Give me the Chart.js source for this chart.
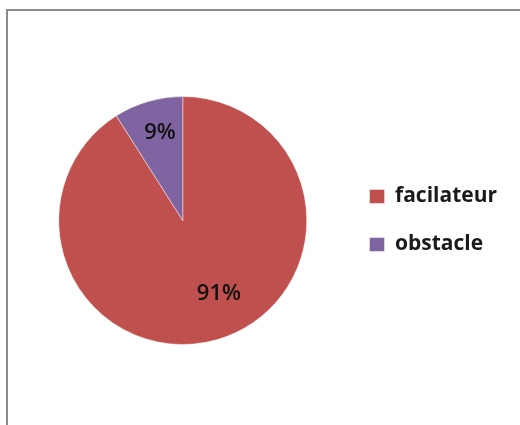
<!DOCTYPE html>
<html>
<head>
<meta charset="utf-8">
<script src="https://cdn.jsdelivr.net/npm/chart.js@4"></script>
<style>
  html, body { margin: 0; padding: 0; background: #fff; }
  #wrap { position: relative; width: 520px; height: 425px; overflow: hidden; }
  #frame {
    position: absolute; left: 6px; top: 9px; width: 600px; height: 500px;
    border-left: 2px solid #8a8a8a; border-top: 2px solid #8a8a8a;
  }
  canvas { position: absolute; left: 0; top: 0; }
</style>
</head>
<body>
<div id="wrap">
  <div id="frame"></div>
  <canvas id="pie" width="520" height="425"></canvas>
</div>
<script>
// données
const categories = ['facilateur', 'obstacle'];
const values = [91, 9];
const colors = ['#C0504D', '#8064A2'];

// étiquettes de pourcentage dessinées sur les parts
const pctLabels = {
    id: 'pctLabels',
    afterDatasetsDraw(chart, args, opts) {
        const ctx = chart.ctx;
        const data = chart.data.datasets[0].data;
        const total = data.reduce((a, b) => a + b, 0);
        chart.getDatasetMeta(0).data.forEach((arc, i) => {
            const p = arc.getProps(['x', 'y', 'startAngle', 'endAngle', 'outerRadius'], true);
            const mid = (p.startAngle + p.endAngle) / 2 + (opts.shift[i] || 0) * Math.PI / 180;
            const r = p.outerRadius * opts.radius[i];
            ctx.save();
            ctx.font = opts.font;
            ctx.fillStyle = opts.color;
            ctx.textAlign = 'center';
            ctx.textBaseline = 'middle';
            ctx.fillText(Math.round(data[i] / total * 100) + '%', p.x + Math.cos(mid) * r, p.y + Math.sin(mid) * r);
            ctx.restore();
        });
    }
};

new Chart(document.getElementById('pie'), {
    type: 'pie',
    data: {
        labels: categories,
        datasets: [{
            data: values,
            backgroundColor: colors,
            borderColor: 'rgba(255,255,255,0.45)',
            borderWidth: 1
        }]
    },
    options: {
        responsive: false,
        animation: false,
        layout: {
            padding: { left: 23, right: 13, top: 96, bottom: 80 }
        },
        plugins: {
            tooltip: { enabled: false },
            legend: {
                position: 'right',
                labels: {
                    boxWidth: 15,
                    boxHeight: 14,
                    padding: 27,
                    color: '#1a1a1a',
                    font: { family: 'Open Sans', size: 21, weight: 'bold' }
                }
            },
            pctLabels: {
                font: '600 22px "Open Sans"',
                color: '#111',
                radius: [0.66, 0.73],
                shift: [-10, 1.6]
            }
        }
    },
    plugins: [pctLabels]
});
</script>
</body>
</html>
